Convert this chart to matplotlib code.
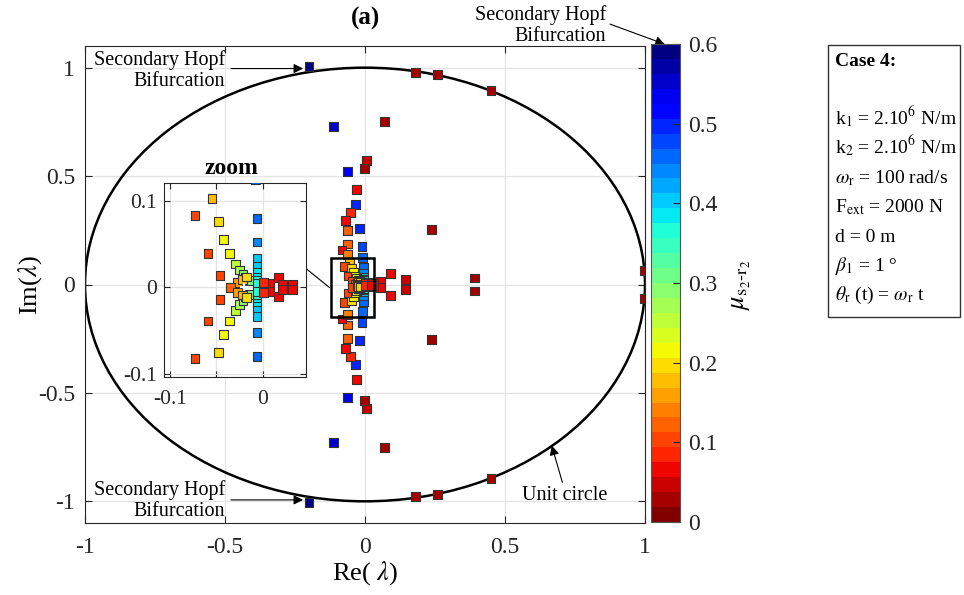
import numpy as np
import matplotlib
matplotlib.use('Agg')
import matplotlib.pyplot as plt
from matplotlib.patches import Circle, Rectangle

plt.rcParams['font.family'] = ['Liberation Serif', 'DejaVu Serif']
plt.rcParams['mathtext.fontset'] = 'stix'
plt.rcParams['axes.unicode_minus'] = False

# Floquet multipliers, upper half plane (Re, Im, mu)
re_up = [-0.20, 0.18, 0.26, 0.45, -0.113, 0.071, 0.006, -0.003, -0.063, -0.031,
         -0.035, -0.053, -0.071, -0.019, -0.062, 0.238, -0.011, -0.063, -0.082, -0.062,
         -0.008, 0.39, 0.998, 0.090, 0.145, 0.054,
         -0.0546, -0.073, -0.048, -0.006, -0.042, -0.059, -0.036, -0.006, -0.006, -0.0295,
         -0.006, -0.0245, -0.006, -0.021, -0.006, -0.046, -0.018, -0.006, -0.015, -0.006,
         -0.027, -0.022, -0.017, -0.035, 0.008, 0.017, 0.001, 0.032, 0.022]
im_up = [1.005, 0.979, 0.969, 0.895, 0.73, 0.75, 0.573, 0.536, 0.522, 0.437,
         0.369, 0.332, 0.295, 0.258, 0.250, 0.252, 0.175, 0.187, 0.159, 0.140,
         0.125, 0.030, 0.063, 0.050, 0.024, 0.015,
         0.103, 0.083, 0.076, 0.080, 0.055, 0.039, 0.039, 0.0525, 0.034, 0.027,
         0.024, 0.020, 0.017, 0.015, 0.012, 0.014, 0.011, 0.008, 0.008, 0.005,
         0.006, 0.009, 0.012, 0.0, 0.0046, 0.011, 0.006, 0.003, 0.003]
mu_up = [0.60, 0.02, 0.02, 0.02, 0.56, 0.03, 0.05, 0.03, 0.54, 0.06,
         0.50, 0.09, 0.07, 0.50, 0.13, 0.02, 0.47, 0.13, 0.07, 0.14,
         0.45, 0.02, 0.02, 0.06, 0.04, 0.06,
         0.17, 0.10, 0.19, 0.46, 0.21, 0.10, 0.22, 0.44, 0.41, 0.26,
         0.40, 0.27, 0.39, 0.29, 0.38, 0.11, 0.30, 0.37, 0.31, 0.36,
         0.15, 0.17, 0.19, 0.13, 0.07, 0.07, 0.08, 0.06, 0.07]

# conjugate multipliers, lower half plane
re_lo = [-0.20, 0.18, 0.26, 0.45, -0.113, 0.071, 0.006, -0.003, -0.063, -0.031,
         -0.035, -0.053, -0.071, -0.019, -0.062, 0.238, -0.011, -0.063, -0.082, -0.062,
         -0.008, 0.39, 0.998, 0.090, 0.145, 0.054,
         -0.073, -0.048, -0.006, -0.042, -0.059, -0.036, -0.006, -0.006, -0.0295,
         -0.006, -0.0245, -0.006, -0.021, -0.006, -0.046, -0.018, -0.006, -0.015, -0.006,
         -0.027, -0.022, -0.017, 0.008, 0.017, 0.001, 0.032, 0.022]
im_lo = [-1.005, -0.979, -0.969, -0.895, -0.73, -0.75, -0.573, -0.536, -0.522, -0.437,
         -0.369, -0.332, -0.295, -0.258, -0.250, -0.252, -0.175, -0.187, -0.159, -0.140,
         -0.125, -0.030, -0.063, -0.050, -0.024, -0.015,
         -0.083, -0.076, -0.080, -0.055, -0.039, -0.039, -0.0525, -0.034, -0.027,
         -0.024, -0.020, -0.017, -0.015, -0.012, -0.014, -0.011, -0.008, -0.008, -0.005,
         -0.006, -0.009, -0.012, -0.0046, -0.011, -0.006, -0.003, -0.003]
mu_lo = [0.60, 0.02, 0.02, 0.02, 0.56, 0.03, 0.05, 0.03, 0.54, 0.06,
         0.50, 0.09, 0.07, 0.50, 0.13, 0.02, 0.47, 0.13, 0.07, 0.14,
         0.45, 0.02, 0.02, 0.06, 0.04, 0.06,
         0.10, 0.19, 0.46, 0.21, 0.10, 0.22, 0.44, 0.41, 0.26,
         0.40, 0.27, 0.39, 0.29, 0.38, 0.11, 0.30, 0.37, 0.31, 0.36,
         0.15, 0.17, 0.19, 0.07, 0.07, 0.08, 0.06, 0.07]

re_all = re_up + re_lo
im_all = im_up + im_lo
mu_all = mu_up + mu_lo

main_ticks = [-1, -0.5, 0, 0.5, 1]
main_labels = ['-1', '-0.5', '0', '0.5', '1']
cb_ticks = [0, 0.1, 0.2, 0.3, 0.4, 0.5, 0.6]
cb_labels = ['0', '0.1', '0.2', '0.3', '0.4', '0.5', '0.6']

case_lines = [r'k$_1$ = 2.10$^6$ N/m',
              r'k$_2$ = 2.10$^6$ N/m',
              r'$\omega_\mathrm{r}$ = 100 rad/s',
              r'F$_\mathrm{ext}$ = 2000 N',
              'd = 0 m',
              r'$\beta_1$ = 1 °',
              r'$\theta_\mathrm{r}$ (t) = $\omega_\mathrm{r}$ t']

W, H = 964, 595
cmap = matplotlib.colormaps['jet_r'].resampled(32)
edge = '#262626'
gridc = '#e4e4e4'

fig = plt.figure(figsize=(W / 100, H / 100), dpi=100)

# main axes
ax = fig.add_axes([85 / W, 1 - 523 / H, 560 / W, 477 / H])
ax.set_xlim(-1, 1)
ax.set_ylim(-1.1, 1.1)
ax.set_xticks(main_ticks)
ax.set_xticklabels(main_labels)
ax.set_yticks(main_ticks)
ax.set_yticklabels(main_labels)
ax.grid(True, color=gridc, lw=0.9)
ax.set_axisbelow(True)
ax.tick_params(direction='in', top=True, right=True, length=5, color=edge,
               labelsize=17, labelcolor='#262626')
ax.tick_params(axis='x', pad=10)
ax.tick_params(axis='y', pad=7)
for sp in ax.spines.values():
    sp.set_color(edge)
    sp.set_linewidth(0.8)

ax.add_patch(Circle((0, 0), 1, fill=False, ec='k', lw=1.8, zorder=2))
sc = ax.scatter(re_all, im_all, c=mu_all, cmap=cmap, vmin=0, vmax=0.6, marker='s',
                s=40, edgecolors='#333333', linewidths=0.8, zorder=3)
ax.add_patch(Rectangle((-0.1225, -0.152), 0.155, 0.273, fill=False, ec='k', lw=1.8, zorder=4))
ax.plot([-0.211, -0.127], [0.074, -0.014], color='k', lw=0.8, zorder=4)

ax.text(0.5, 1.0587, '(a)', transform=ax.transAxes, ha='center', va='center',
        fontsize=18, fontweight='bold')

arr = dict(arrowstyle='-|>', color='k', lw=0.8, mutation_scale=14, shrinkA=0, shrinkB=0)
ax.text(-0.5, 0.988, 'Secondary Hopf\nBifurcation', ha='right', va='center',
        multialignment='right', fontsize=14.5, linespacing=1.15)
ax.annotate('', xy=(-0.221, 0.996), xytext=(-0.479, 0.996), arrowprops=arr)
ax.text(-0.5, -0.998, 'Secondary Hopf\nBifurcation', ha='right', va='center',
        multialignment='right', fontsize=14.5, linespacing=1.15)
ax.annotate('', xy=(-0.221, -0.9935), xytext=(-0.479, -0.9935), arrowprops=arr)
ax.text(0.861, 1.194, 'Secondary Hopf\nBifurcation', ha='right', va='center',
        multialignment='right', fontsize=14.5, linespacing=1.15)
ax.annotate('', xy=(1.071, 1.108), xytext=(0.875, 1.201), arrowprops=arr,
            annotation_clip=False)
ax.text(0.714, -0.975, 'Unit circle', ha='center', va='center', fontsize=14.5)
ax.annotate('', xy=(0.667, -0.743), xytext=(0.705, -0.913), arrowprops=arr)

fig.text(365 / W, 1 - 573 / H, r'Re( $\lambda$)', ha='center', va='center', fontsize=19)
fig.text(30 / W, 1 - 285 / H, r'Im($\lambda$)', ha='center', va='center',
         fontsize=19, rotation=90)

# zoom inset
axin = fig.add_axes([164 / W, 1 - 377 / H, 142 / W, 194 / H])
axin.set_xlim(-0.1065, 0.047)
axin.set_ylim(-0.104, 0.1209)
axin.set_xticks([-0.1, -0.05, 0])
axin.set_xticklabels(['-0.1', '', '0'])
axin.set_yticks([-0.1, 0, 0.1])
axin.set_yticklabels(['-0.1', '0', '0.1'])
axin.grid(True, color=gridc, lw=0.9)
axin.set_axisbelow(True)
axin.tick_params(direction='in', top=True, right=True, length=4, color=edge,
                 labelsize=15.5, labelcolor='#262626')
axin.tick_params(axis='x', pad=9)
axin.tick_params(axis='y', pad=5)
for sp in axin.spines.values():
    sp.set_color(edge)
    sp.set_linewidth(0.8)
axin.scatter(re_all, im_all, c=mu_all, cmap=cmap, vmin=0, vmax=0.6, marker='s',
             s=40, edgecolors='#333333', linewidths=0.8, zorder=3)
axin.plot([-0.0197], [0], '+', color='white', ms=6, mew=1.6, zorder=5)
axin.text(0.472, 1.077, 'zoom', transform=axin.transAxes, ha='center', va='center',
          fontsize=17, fontweight='bold')

# colorbar
cax = fig.add_axes([651 / W, 1 - 522 / H, 29 / W, 478 / H])
cb = fig.colorbar(sc, cax=cax, ticks=cb_ticks)
cb.ax.set_yticklabels(cb_labels)
cb.ax.tick_params(direction='in', length=5, color=edge, labelsize=17,
                  labelcolor='#262626', pad=6)
cb.outline.set_edgecolor('#555555')
cb.outline.set_linewidth(0.8)
fig.text(742 / W, 1 - 285 / H, r'$\mu_{\mathrm{s_2}\mathrm{‐}\mathrm{r_2}}$', ha='center',
         va='center', fontsize=19, rotation=90)

# parameter box
fig.add_artist(Rectangle((828 / W, 1 - 317 / H), 132 / W, 272 / H, transform=fig.transFigure,
                         fill=False, ec='#333333', lw=1.0))
fig.text(835 / W, 1 - 66 / H, 'Case 4:', ha='left', va='baseline', fontsize=14,
         fontweight='bold')
for i, line in enumerate(case_lines):
    fig.text(835 / W, 1 - (124.6 + 29.3 * i) / H, line, ha='left', va='baseline', fontsize=14)

fig.savefig('out.png', dpi=100)
